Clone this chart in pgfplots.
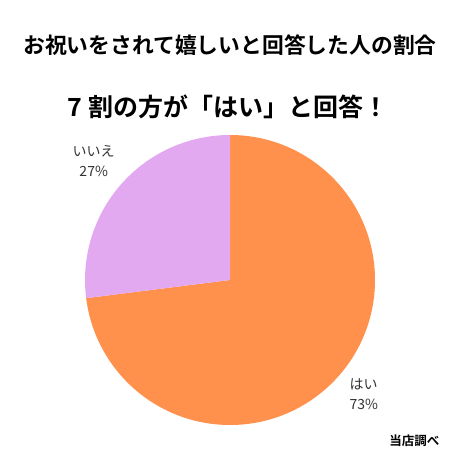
\documentclass[border=0pt]{standalone}
\usepackage{fontspec}
\usepackage{pgfplots}
\usepackage{pgfplotstable}
\pgfplotsset{compat=1.18}
\setmainfont{Noto Sans CJK JP}
\newfontfamily\jpb{Noto Sans CJK JP Bold}
\definecolor{pieorange}{HTML}{FF914D}
\definecolor{piepurple}{HTML}{E2A9F1}
\definecolor{txt}{HTML}{333333}
\pgfplotstableread{
idx value
0 73
1 27
}\piedata
\pgfplotstablegetelem{0}{value}\of\piedata
\let\valYes\pgfplotsretval
\pgfplotstablegetelem{1}{value}\of\piedata
\let\valNo\pgfplotsretval
\pgfmathsetmacro\angYes{90-3.6*\valYes}
\begin{document}
\begin{tikzpicture}
\useasboundingbox (0,0) rectangle (460bp,460bp);
\node[font=\jpb\fontsize{21.8bp}{26bp}\selectfont, text=black] at (230bp,415bp) {お祝いをされて嬉しいと回答した人の割合};
\node[font=\jpb\fontsize{25bp}{30bp}\selectfont, text=black] at (228bp,353bp) {7 割の方が「はい」と回答！};
\node[font=\jpb\fontsize{12.5bp}{15bp}\selectfont, text=black, anchor=east] at (443bp,19bp) {当店調べ};
\begin{axis}[
  at={(230bp,180bp)}, anchor=center,
  width=290bp, height=290bp, scale only axis,
  xmin=-1, xmax=1, ymin=-1, ymax=1,
  hide axis, clip=false,
]
\fill[pieorange] (axis cs:0,0) -- (axis cs:0,1) arc[start angle=90, end angle=\angYes, radius=145bp] -- cycle;
\fill[piepurple] (axis cs:0,0) -- (axis cs:0,1) arc[start angle=90, end angle=\angYes+360, radius=145bp] -- cycle;
\node[font=\fontsize{14bp}{20bp}\selectfont, text=txt, align=center] at (axis cs:-0.94,0.82) {いいえ\\27\%};
\node[font=\fontsize{14bp}{20bp}\selectfont, text=txt, align=left, anchor=west] at (axis cs:0.80,-0.79) {はい\\73\%};
\end{axis}
\end{tikzpicture}
\end{document}
